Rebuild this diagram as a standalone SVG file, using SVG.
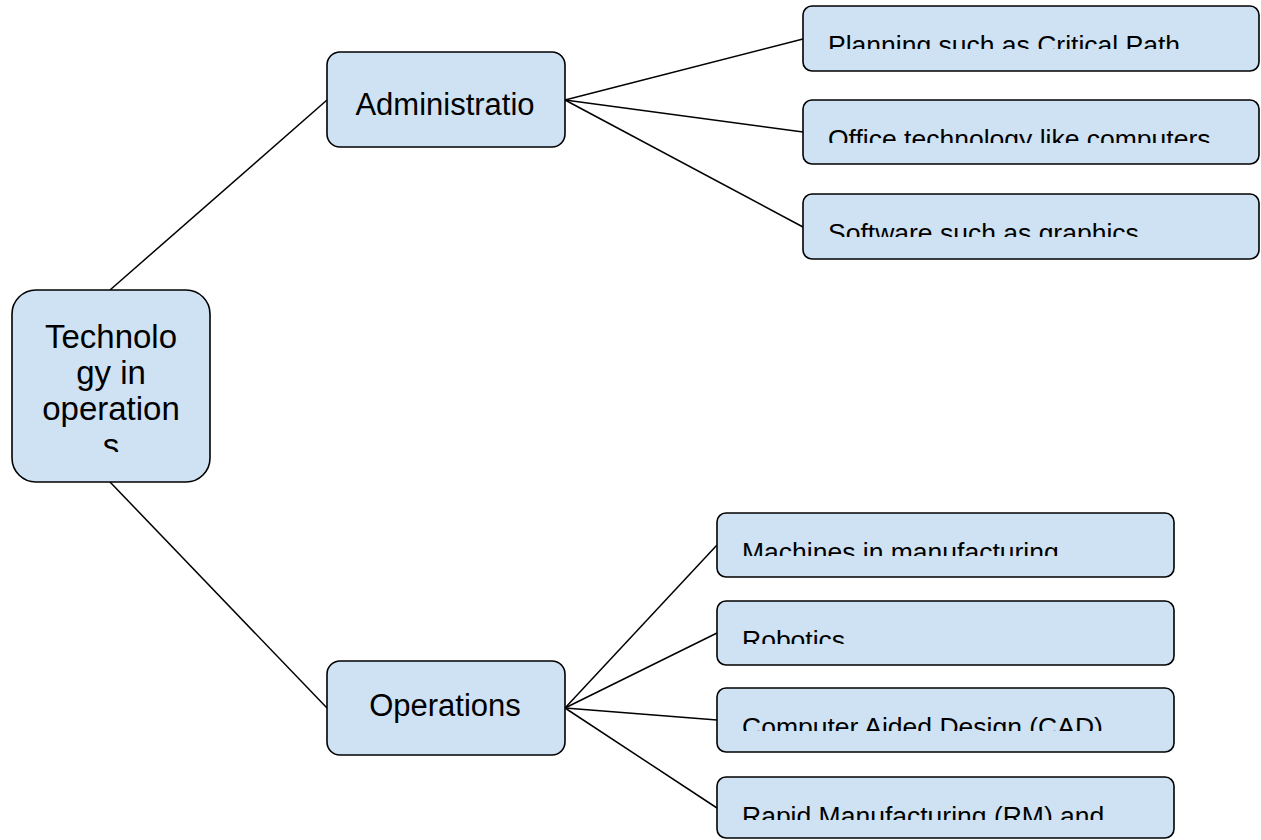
<svg xmlns="http://www.w3.org/2000/svg" width="1261" height="840" viewBox="0 0 1261 840">
<style>
.box{fill:#cfe2f3;stroke:#000;stroke-width:1.6}
.big{font-family:"Liberation Sans",Arial,sans-serif;font-size:31px;fill:#000;text-anchor:middle}
.sm{font-family:"Liberation Sans",Arial,sans-serif;font-size:26.5px;fill:#000}
.con line{stroke:#000;stroke-width:1.5}
</style>
<defs>
<clipPath id="cRoot"><rect x="12" y="290" width="198" height="162"/></clipPath>
<clipPath id="cAdm"><rect x="327" y="52" width="238" height="71"/></clipPath>
<clipPath id="c1"><rect x="803" y="6" width="456" height="43"/></clipPath>
<clipPath id="c2"><rect x="803" y="100" width="456" height="43"/></clipPath>
<clipPath id="c3"><rect x="803" y="194" width="456" height="43"/></clipPath>
<clipPath id="c4"><rect x="717" y="513" width="457" height="43"/></clipPath>
<clipPath id="c5"><rect x="717" y="601" width="457" height="43"/></clipPath>
<clipPath id="c6"><rect x="717" y="688" width="457" height="43"/></clipPath>
<clipPath id="c7"><rect x="717" y="777" width="457" height="43"/></clipPath>
</defs>
<g class="con" id="connectors">
<line x1="110" y1="290" x2="327" y2="100"/>
<line x1="110" y1="482" x2="327" y2="708"/>
<line x1="565" y1="100" x2="803" y2="39"/>
<line x1="565" y1="100" x2="803" y2="132"/>
<line x1="565" y1="100" x2="803" y2="227"/>
<line x1="565" y1="708" x2="717" y2="545"/>
<line x1="565" y1="708" x2="717" y2="633"/>
<line x1="565" y1="708" x2="717" y2="720"/>
<line x1="565" y1="708" x2="717" y2="808"/>
</g>
<g id="root">
<rect class="box" x="12" y="290" width="198" height="192" rx="24"/>
<g clip-path="url(#cRoot)" style="font-size:33px">
<text class="big" x="111" y="348" style="font-size:33px">Technolo</text>
<text class="big" x="111" y="384" style="font-size:33px">gy in</text>
<text class="big" x="111" y="420" style="font-size:33px">operation</text>
<text class="big" x="111" y="457" style="font-size:33px">s</text>
</g>
</g>
<g id="admin">
<rect class="box" x="327" y="52" width="238" height="95" rx="13"/>
<g clip-path="url(#cAdm)">
<text class="big" x="445" y="115">Administratio</text>
</g>
</g>
<g id="operations">
<rect class="box" x="327" y="661" width="238" height="94" rx="13"/>
<text class="big" x="445" y="716">Operations</text>
</g>
<g id="planning">
<rect class="box" x="803" y="6" width="456" height="65" rx="9"/>
<text class="sm" x="828" y="54" clip-path="url(#c1)">Planning such as Critical Path</text>
</g>
<g id="office">
<rect class="box" x="803" y="100" width="456" height="64" rx="9"/>
<text class="sm" x="828" y="148" clip-path="url(#c2)">Office technology like computers</text>
</g>
<g id="software">
<rect class="box" x="803" y="194" width="456" height="65" rx="9"/>
<text class="sm" x="828" y="242" clip-path="url(#c3)">Software such as graphics</text>
</g>
<g id="machines">
<rect class="box" x="717" y="513" width="457" height="64" rx="9"/>
<text class="sm" x="742" y="561" clip-path="url(#c4)">Machines in manufacturing</text>
</g>
<g id="robotics">
<rect class="box" x="717" y="601" width="457" height="64" rx="9"/>
<text class="sm" x="742" y="649" clip-path="url(#c5)">Robotics</text>
</g>
<g id="cad">
<rect class="box" x="717" y="688" width="457" height="64" rx="9"/>
<text class="sm" x="742" y="736" clip-path="url(#c6)">Computer Aided Design (CAD)</text>
</g>
<g id="rm">
<rect class="box" x="717" y="777" width="457" height="61" rx="9"/>
<text class="sm" x="742" y="825" clip-path="url(#c7)">Rapid Manufacturing (RM) and</text>
</g>
</svg>
